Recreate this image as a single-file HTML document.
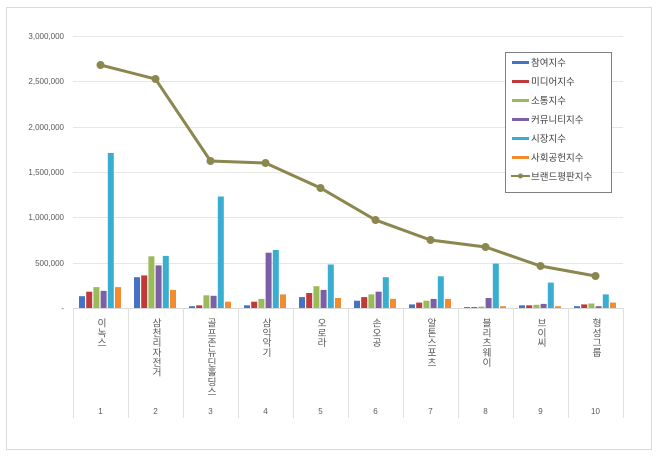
<!DOCTYPE html>
<html><head><meta charset="utf-8"><style>body{margin:0;background:#fff}svg{display:block}
.a{fill:#4472c4}.b{fill:#c0393b}.c{fill:#9bbb59}.d{fill:#7d5fa6}.e{fill:#3aaed0}.f{fill:#f38b2f}</style></head><body>
<svg width="660" height="457" xmlns="http://www.w3.org/2000/svg" font-family="Liberation Sans, Noto Sans CJK KR, sans-serif">
<rect x="6.5" y="7.5" width="645" height="442" fill="#fff" stroke="#d9d9d9"/>
<g stroke="#e6e6e6" stroke-width="1">
<line x1="73" x2="623" y1="36.5" y2="36.5"/><line x1="73" x2="623" y1="81.5" y2="81.5"/><line x1="73" x2="623" y1="127.5" y2="127.5"/><line x1="73" x2="623" y1="172.5" y2="172.5"/><line x1="73" x2="623" y1="217.5" y2="217.5"/><line x1="73" x2="623" y1="263.5" y2="263.5"/>
<line x1="73" x2="623" y1="308.5" y2="308.5" stroke="#d9d9d9"/>
</g>
<g stroke="#e0e0e0">
<line x1="73.5" x2="73.5" y1="308" y2="418"/><line x1="128.5" x2="128.5" y1="308" y2="418"/><line x1="183.5" x2="183.5" y1="308" y2="418"/><line x1="238.5" x2="238.5" y1="308" y2="418"/><line x1="293.5" x2="293.5" y1="308" y2="418"/><line x1="348.5" x2="348.5" y1="308" y2="418"/><line x1="403.5" x2="403.5" y1="308" y2="418"/><line x1="458.5" x2="458.5" y1="308" y2="418"/><line x1="513.5" x2="513.5" y1="308" y2="418"/><line x1="568.5" x2="568.5" y1="308" y2="418"/><line x1="623.5" x2="623.5" y1="308" y2="418"/>
</g>
<g font-size="8" fill="#595959" text-anchor="end">
<text x="64" y="39">3,000,000</text><text x="64" y="84">2,500,000</text><text x="64" y="130">2,000,000</text><text x="64" y="175">1,500,000</text><text x="64" y="220">1,000,000</text><text x="64" y="266">500,000</text><text x="64" y="311">-</text>
</g>
<g transform="translate(79,308) scale(1,-1)"><rect class="a" x="0" width="6" height="11.8"/><rect class="b" x="7.2" width="6" height="16.3"/><rect class="c" x="14.4" width="6" height="20.9"/><rect class="d" x="21.6" width="6" height="17.2"/><rect class="e" x="28.8" width="6" height="155"/><rect class="f" x="36" width="6" height="20.9"/></g>
<g transform="translate(134,308) scale(1,-1)"><rect class="a" x="0" width="6" height="30.8"/><rect class="b" x="7.2" width="6" height="32.6"/><rect class="c" x="14.4" width="6" height="51.7"/><rect class="d" x="21.6" width="6" height="42.6"/><rect class="e" x="28.8" width="6" height="52.1"/><rect class="f" x="36" width="6" height="18.1"/></g>
<g transform="translate(189,308) scale(1,-1)"><rect class="a" x="0" width="6" height="1.8"/><rect class="b" x="7.2" width="6" height="2.7"/><rect class="c" x="14.4" width="6" height="12.7"/><rect class="d" x="21.6" width="6" height="12.2"/><rect class="e" x="28.8" width="6" height="111.5"/><rect class="f" x="36" width="6" height="6.3"/></g>
<g transform="translate(244,308) scale(1,-1)"><rect class="a" x="0" width="6" height="2.7"/><rect class="b" x="7.2" width="6" height="6.3"/><rect class="c" x="14.4" width="6" height="9.1"/><rect class="d" x="21.6" width="6" height="55.3"/><rect class="e" x="28.8" width="6" height="58"/><rect class="f" x="36" width="6" height="13.6"/></g>
<g transform="translate(299,308) scale(1,-1)"><rect class="a" x="0" width="6" height="10.9"/><rect class="b" x="7.2" width="6" height="15"/><rect class="c" x="14.4" width="6" height="21.8"/><rect class="d" x="21.6" width="6" height="18.1"/><rect class="e" x="28.8" width="6" height="43.5"/><rect class="f" x="36" width="6" height="10"/></g>
<g transform="translate(354,308) scale(1,-1)"><rect class="a" x="0" width="6" height="7.3"/><rect class="b" x="7.2" width="6" height="10.9"/><rect class="c" x="14.4" width="6" height="13.6"/><rect class="d" x="21.6" width="6" height="16.3"/><rect class="e" x="28.8" width="6" height="30.8"/><rect class="f" x="36" width="6" height="9.1"/></g>
<g transform="translate(409,308) scale(1,-1)"><rect class="a" x="0" width="6" height="3.6"/><rect class="b" x="7.2" width="6" height="5.4"/><rect class="c" x="14.4" width="6" height="7.3"/><rect class="d" x="21.6" width="6" height="9.1"/><rect class="e" x="28.8" width="6" height="31.7"/><rect class="f" x="36" width="6" height="9.1"/></g>
<g transform="translate(464,308) scale(1,-1)"><rect class="a" x="0" width="6" height="0.9"/><rect class="b" x="7.2" width="6" height="0.9"/><rect class="c" x="14.4" width="6" height="1.4"/><rect class="d" x="21.6" width="6" height="10"/><rect class="e" x="28.8" width="6" height="44.4"/><rect class="f" x="36" width="6" height="1.8"/></g>
<g transform="translate(519,308) scale(1,-1)"><rect class="a" x="0" width="6" height="2.7"/><rect class="b" x="7.2" width="6" height="2.7"/><rect class="c" x="14.4" width="6" height="3.2"/><rect class="d" x="21.6" width="6" height="4.1"/><rect class="e" x="28.8" width="6" height="25.4"/><rect class="f" x="36" width="6" height="1.8"/></g>
<g transform="translate(574,308) scale(1,-1)"><rect class="a" x="0" width="6" height="1.8"/><rect class="b" x="7.2" width="6" height="3.6"/><rect class="c" x="14.4" width="6" height="4.5"/><rect class="d" x="21.6" width="6" height="1.8"/><rect class="e" x="28.8" width="6" height="13.6"/><rect class="f" x="36" width="6" height="5.4"/></g>
<polyline fill="none" stroke="#8c864f" stroke-width="3" points="100.5,65 155.5,79 210.5,161 265.5,163 320.5,188 375.5,220 430.5,240 485.5,247 540.5,266 595.5,276"/>
<g fill="#8c864f">
<circle cx="100.5" cy="65" r="4"/><circle cx="155.5" cy="79" r="4"/><circle cx="210.5" cy="161" r="4"/><circle cx="265.5" cy="163" r="4"/><circle cx="320.5" cy="188" r="4"/><circle cx="375.5" cy="220" r="4"/><circle cx="430.5" cy="240" r="4"/><circle cx="485.5" cy="247" r="4"/><circle cx="540.5" cy="266" r="4"/><circle cx="595.5" cy="276" r="4"/>
</g>
<g font-size="9.8" fill="#595959" text-anchor="start" style="writing-mode:vertical-rl;glyph-orientation-vertical:0">
<text x="100.5" y="318">이녹스</text><text x="155.5" y="318">삼천리자전거</text><text x="210.5" y="318">골프존뉴딘홀딩스</text><text x="265.5" y="318">삼익악기</text><text x="320.5" y="318">오로라</text><text x="375.5" y="318">손오공</text><text x="430.5" y="318">알톤스포츠</text><text x="485.5" y="318">블리츠웨이</text><text x="540.5" y="318">브이씨</text><text x="595.5" y="318">형성그룹</text>
</g>
<g font-size="8" fill="#595959" text-anchor="middle">
<text x="100.5" y="414">1</text><text x="155.5" y="414">2</text><text x="210.5" y="414">3</text><text x="265.5" y="414">4</text><text x="320.5" y="414">5</text><text x="375.5" y="414">6</text><text x="430.5" y="414">7</text><text x="485.5" y="414">8</text><text x="540.5" y="414">9</text><text x="595.5" y="414">10</text>
</g>
<rect x="505.5" y="52.5" width="106" height="140" fill="#fff" stroke="#7f7f7f"/>
<g font-size="9.5" fill="#404040">
<rect x="512" y="61" width="17" height="3" fill="#4472c4"/><text x="531" y="66">참여지수</text>
<rect x="512" y="80" width="17" height="3" fill="#c0393b"/><text x="531" y="85">미디어지수</text>
<rect x="512" y="99" width="17" height="3" fill="#9bbb59"/><text x="531" y="104">소통지수</text>
<rect x="512" y="118" width="17" height="3" fill="#7d5fa6"/><text x="531" y="123">커뮤니티지수</text>
<rect x="512" y="137" width="17" height="3" fill="#3aaed0"/><text x="531" y="142">시장지수</text>
<rect x="512" y="156" width="17" height="3" fill="#f38b2f"/><text x="531" y="161">사회공헌지수</text>
<rect x="511" y="175" width="19" height="2" fill="#8c864f"/><circle cx="520.5" cy="176" r="2.5" fill="#8c864f"/><text x="531" y="180">브랜드평판지수</text>
</g>
</svg>
</body></html>
